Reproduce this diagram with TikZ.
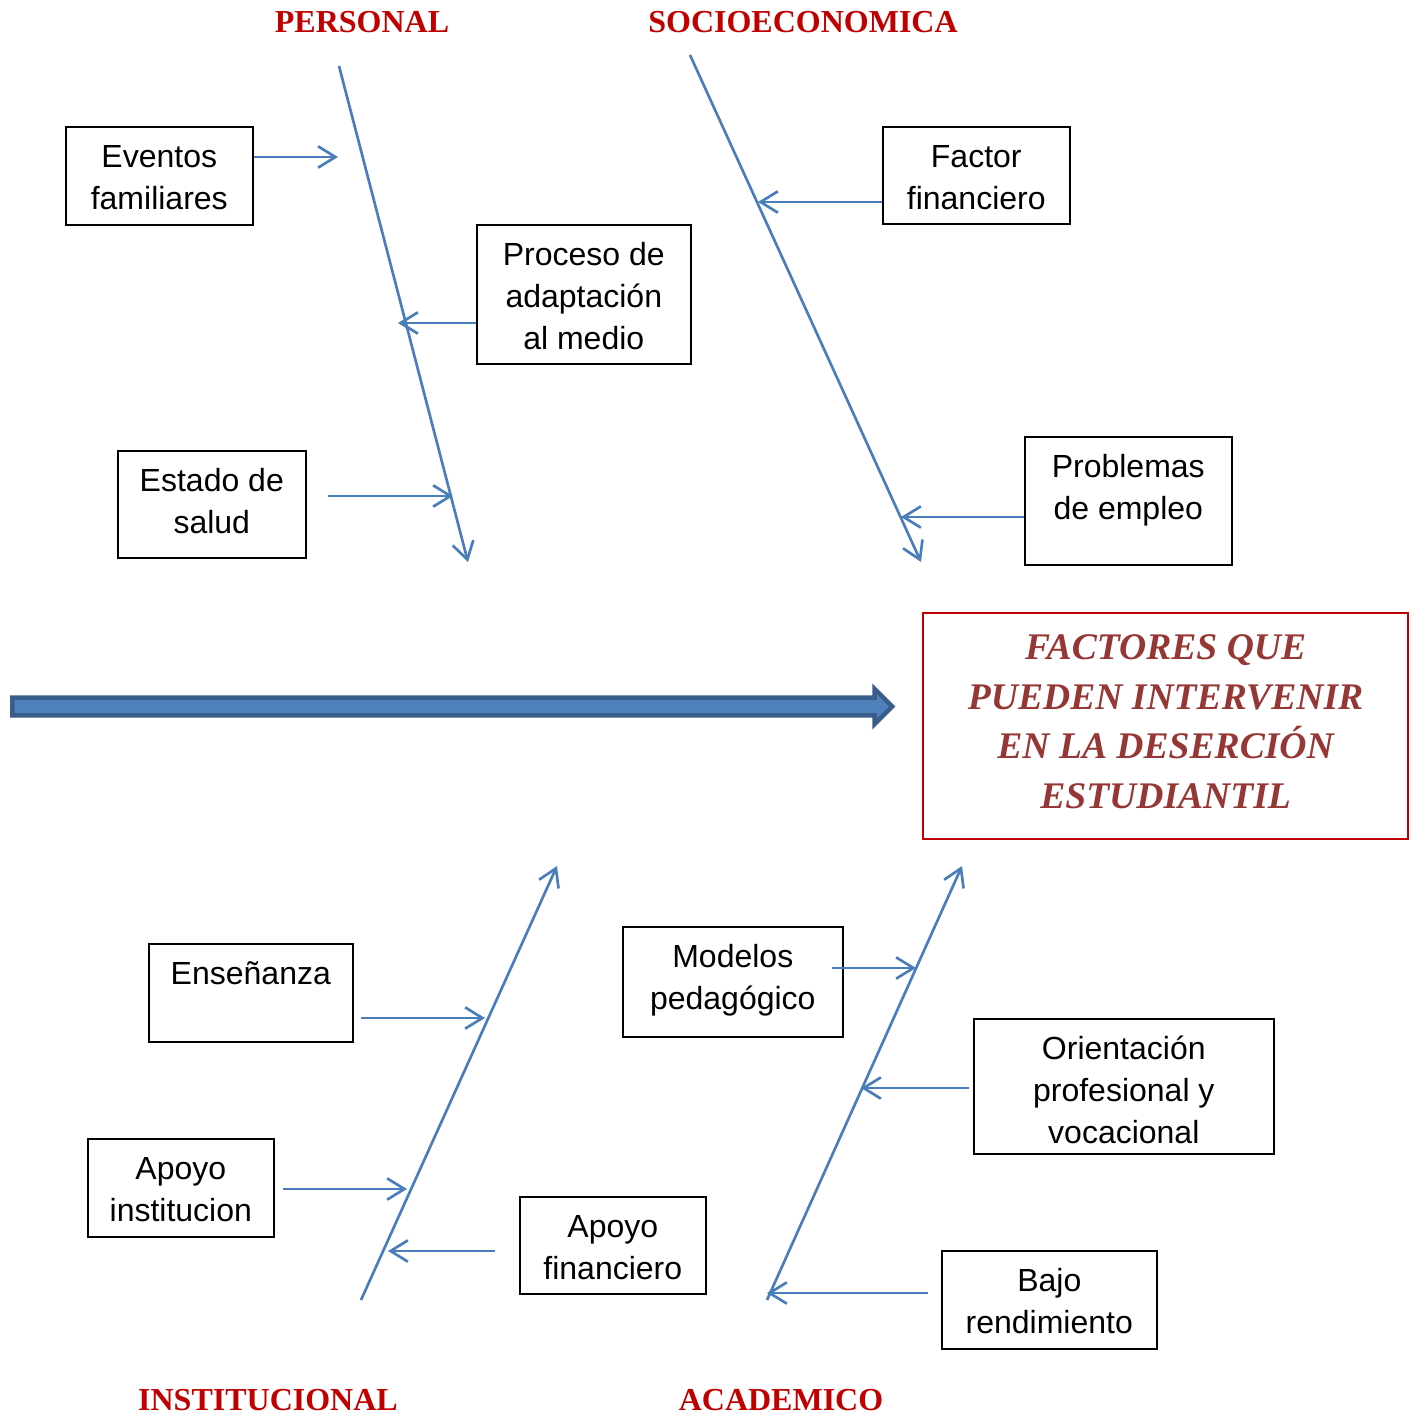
\documentclass[tikz,border=0pt]{standalone}
\usepackage{fontspec}
\setmainfont{Liberation Sans}
\newfontfamily\titulofont{Liberation Serif}
\usetikzlibrary{arrows.meta,positioning,shapes.arrows}

\definecolor{azul}{HTML}{4A7EBB}
\definecolor{azulclaro}{HTML}{4F81BD}
\definecolor{azuloscuro}{HTML}{385D8A}
\definecolor{rojo}{HTML}{C00000}
\definecolor{granate}{HTML}{953735}

% texto de caja alineado arriba
\newcommand{\cajatxt}[3]{\parbox[c][#2][t]{#1}{\centering\vspace*{4.4pt}\strut#3}}

\tikzset{caja/.style={draw=black, line width=0.6pt, inner sep=0pt, anchor=north west, font=\fontsize{12}{15.75}\selectfont}}
\tikzset{rama/.style={->, draw=azul, line width=1pt}}
\tikzset{categoria/.style={text=rojo, font=\titulofont\bfseries\fontsize{12}{15}\selectfont}}
\tikzset{efecto/.style={draw=rojo, line width=0.8pt, inner sep=0pt, anchor=north west, text=granate, font=\titulofont\bfseries\itshape\fontsize{14.1}{18.6}\selectfont}}
\tikzset{flecha/.style={single arrow, draw=azuloscuro, fill=azulclaro, line width=1.7pt, inner xsep=0pt, inner ysep=2.45pt, minimum height=330pt, single arrow head extend=3.3pt, anchor=tail}}

\begin{document}
\begin{tikzpicture}[x=0.375pt, y=-0.375pt, >={Straight Barb[length=6.5pt,width=8pt]}]
  \useasboundingbox (0,0) rectangle (1412,1415);

  \node[categoria]      (personal)     at (362,22)     {PERSONAL};
  \node[categoria]      (socio)        at (803,22)     {SOCIOECONOMICA};
  \node[categoria]      (institucional) at (268,1400)  {INSTITUCIONAL};
  \node[categoria]      (academico)    at (781,1400)   {ACADEMICO};

  \node[caja]           (eventos)      at (65,126)     {\cajatxt{70.1pt}{36.75pt}{Eventos\\familiares}};
  \node[caja]           (proceso)      at (476,224)    {\cajatxt{80.25pt}{52.1pt}{Proceso de\\adaptación\\al medio}};
  \node[caja]           (estado)       at (117,450)    {\cajatxt{70.5pt}{40.1pt}{Estado de\\salud}};
  \node[caja]           (factor)       at (882,126)    {\cajatxt{70.1pt}{36.4pt}{Factor\\financiero}};
  \node[caja]           (problemas)    at (1024,436)   {\cajatxt{77.6pt}{48pt}{Problemas\\de empleo}};
  \node[caja]           (ensenanza)    at (148,943)    {\cajatxt{76.5pt}{36.75pt}{Enseñanza}};
  \node[caja]           (apoyoinst)    at (87,1138)    {\cajatxt{69.75pt}{36.75pt}{Apoyo\\institucion}};
  \node[caja]           (apoyofin)     at (519,1196)   {\cajatxt{69.75pt}{36.4pt}{Apoyo\\financiero}};
  \node[caja]           (modelos)      at (622,926)    {\cajatxt{82.5pt}{41.25pt}{Modelos\\pedagógico}};
  \node[caja]           (orientacion)  at (973,1018)   {\cajatxt{112.5pt}{50.6pt}{Orientación\\profesional y\\vocacional}};
  \node[caja]           (bajo)         at (941,1250)   {\cajatxt{80.6pt}{36.75pt}{Bajo\\rendimiento}};

  \node[efecto]         (efecto)       at (922,612)    {\cajatxt{181.9pt}{84.75pt}{FACTORES QUE\\PUEDEN INTERVENIR\\EN LA DESERCIÓN\\ESTUDIANTIL}};
  \node[flecha]         (eje)          at (10,706.5)   {};

  % espinas
  \coordinate (p1) at (339,66);   \coordinate (p2) at (468,562);
  \coordinate (s1) at (690,55);   \coordinate (s2) at (921,562);
  \coordinate (i1) at (361,1300); \coordinate (i2) at (557,866);
  \coordinate (a1) at (767,1300); \coordinate (a2) at (962,866);

  % extremos de las ramas
  \coordinate (ev) at (338,157);
  \coordinate (pr) at (398,323);
  \coordinate (es0) at (328,496);  \coordinate (es) at (453,496);
  \coordinate (fa) at (758,202);
  \coordinate (pb) at (901,517);
  \coordinate (en0) at (361,1018); \coordinate (en) at (485,1018);
  \coordinate (ai0) at (283,1189); \coordinate (ai) at (407,1189);
  \coordinate (af0) at (495,1251); \coordinate (af) at (388,1251);
  \coordinate (mo0) at (832,968);  \coordinate (mo) at (916,968);
  \coordinate (or0) at (969,1088); \coordinate (or) at (861,1088);
  \coordinate (ba0) at (928,1293); \coordinate (ba) at (767,1293);

  \path (p1)                  edge [rama] (p2)
        (s1)                  edge [rama] (s2)
        (i1)                  edge [rama] (i2)
        (a1)                  edge [rama] (a2)
        (eventos.east |- ev)  edge [rama] (ev)
        (proceso.west |- pr)  edge [rama] (pr)
        (es0)                 edge [rama] (es)
        (factor.west |- fa)   edge [rama] (fa)
        (problemas.west |- pb) edge [rama] (pb)
        (en0)                 edge [rama] (en)
        (ai0)                 edge [rama] (ai)
        (af0)                 edge [rama] (af)
        (mo0)                 edge [rama] (mo)
        (or0)                 edge [rama] (or)
        (ba0)                 edge [rama] (ba);
\end{tikzpicture}
\end{document}
